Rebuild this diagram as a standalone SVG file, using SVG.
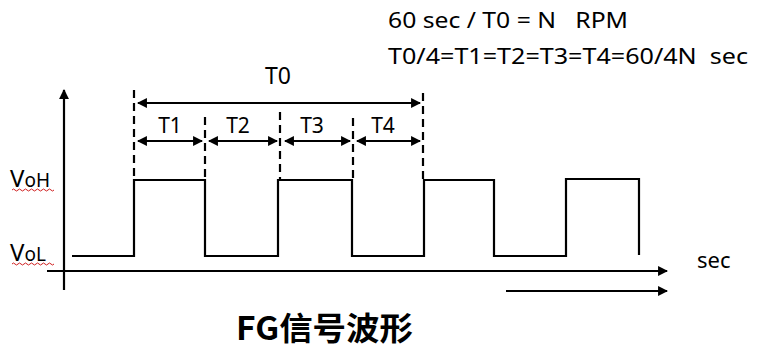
<svg xmlns="http://www.w3.org/2000/svg" width="768" height="354" viewBox="0 0 768 354">
<defs>
<style>
.t{font-family:"Noto Sans","Liberation Sans",Arial,sans-serif;fill:#000;white-space:pre}
.ln{stroke:#000;stroke-width:2.2;fill:none}
.dash{stroke:#000;stroke-width:2.2;stroke-dasharray:8 5;fill:none}
.sq{stroke:#d02020;stroke-width:1;fill:none}
</style>
<marker id="ah" viewBox="0 0 10 10" refX="9" refY="5" markerWidth="4.5" markerHeight="4.5" orient="auto-start-reverse" markerUnits="strokeWidth">
<path d="M0,0 L10,5 L0,10 Z" fill="#000"/>
</marker>
<marker id="ahs" viewBox="0 0 10 10" refX="9" refY="5" markerWidth="4.5" markerHeight="4.5" orient="auto-start-reverse" markerUnits="strokeWidth">
<path d="M0,0 L10,5 L0,10 Z" fill="#000"/>
</marker>
</defs>
<rect width="768" height="354" fill="#fff"/>

<g id="formulas">
<text class="t" x="388" y="28" font-size="21" xml:space="preserve" textLength="240" lengthAdjust="spacingAndGlyphs">60 sec / T0 = N   RPM</text>
<text class="t" x="388" y="64" font-size="21" xml:space="preserve" textLength="360" lengthAdjust="spacingAndGlyphs">T0/4=T1=T2=T3=T4=60/4N  sec</text>
</g>

<g id="axes">
<line class="ln" x1="64" y1="290" x2="64" y2="90" marker-end="url(#ah)"/>
<line class="ln" x1="47" y1="271" x2="667" y2="271" marker-end="url(#ah)"/>
<line class="ln" x1="506" y1="291" x2="667" y2="291" marker-end="url(#ah)"/>
<text class="t" x="697" y="268" font-size="22">sec</text>
</g>

<g id="levels">
<text class="t" x="10" y="187" font-size="24">V<tspan font-size="19">oH</tspan></text>
<path class="sq" d="M12,190 q1.5,-2 3,0 t3,0 t3,0 t3,0 t3,0 t3,0 t3,0 t3,0 t3,0 t3,0 t3,0 t3,0 t3,0 t3,0"/>
<text class="t" x="10" y="261" font-size="24">V<tspan font-size="19">oL</tspan></text>
<path class="sq" d="M12,264 q1.5,-2 3,0 t3,0 t3,0 t3,0 t3,0 t3,0 t3,0 t3,0 t3,0 t3,0 t3,0 t3,0 t3,0 t3,0"/>
</g>

<g id="waveform">
<polyline class="ln" stroke-linejoin="miter" points="72,256 134,256 134,180 205,180 205,256 278,256 278,180 352,180 352,256 424,256 424,180 494,180 494,256 566,256 566,179 639,179 639,255"/>
</g>

<g id="connectors">
<line class="dash" x1="134" y1="90" x2="134" y2="180"/>
<line class="dash" x1="205" y1="117" x2="205" y2="180"/>
<line class="dash" x1="280" y1="112" x2="280" y2="180"/>
<line class="dash" x1="353" y1="118" x2="353" y2="180"/>
<line class="dash" x1="423" y1="93" x2="423" y2="180"/>
<line class="ln" x1="138" y1="103" x2="420" y2="103" marker-start="url(#ah)" marker-end="url(#ah)"/>
<line class="ln" stroke-width="1.8" x1="138" y1="141" x2="202" y2="141" marker-start="url(#ahs)" marker-end="url(#ahs)"/>
<line class="ln" stroke-width="1.8" x1="209" y1="141" x2="277" y2="141" marker-start="url(#ahs)" marker-end="url(#ahs)"/>
<line class="ln" stroke-width="1.8" x1="285" y1="141" x2="350" y2="141" marker-start="url(#ahs)" marker-end="url(#ahs)"/>
<line class="ln" stroke-width="1.8" x1="357" y1="141" x2="420" y2="141" marker-start="url(#ahs)" marker-end="url(#ahs)"/>
</g>

<g id="labels">
<text class="t" x="278" y="84" font-size="23" text-anchor="middle">T0</text>
<text class="t" x="170" y="133" font-size="21" text-anchor="middle">T1</text>
<text class="t" x="238" y="133" font-size="21" text-anchor="middle">T2</text>
<text class="t" x="312" y="133" font-size="21" text-anchor="middle">T3</text>
<text class="t" x="383" y="133" font-size="21" text-anchor="middle">T4</text>
</g>

<g id="title">
<text x="236" y="340" font-size="32" font-weight="bold" font-family="'Noto Sans CJK SC','Noto Sans',sans-serif" textLength="177" lengthAdjust="spacingAndGlyphs">FG信号波形</text>
</g>
</svg>
